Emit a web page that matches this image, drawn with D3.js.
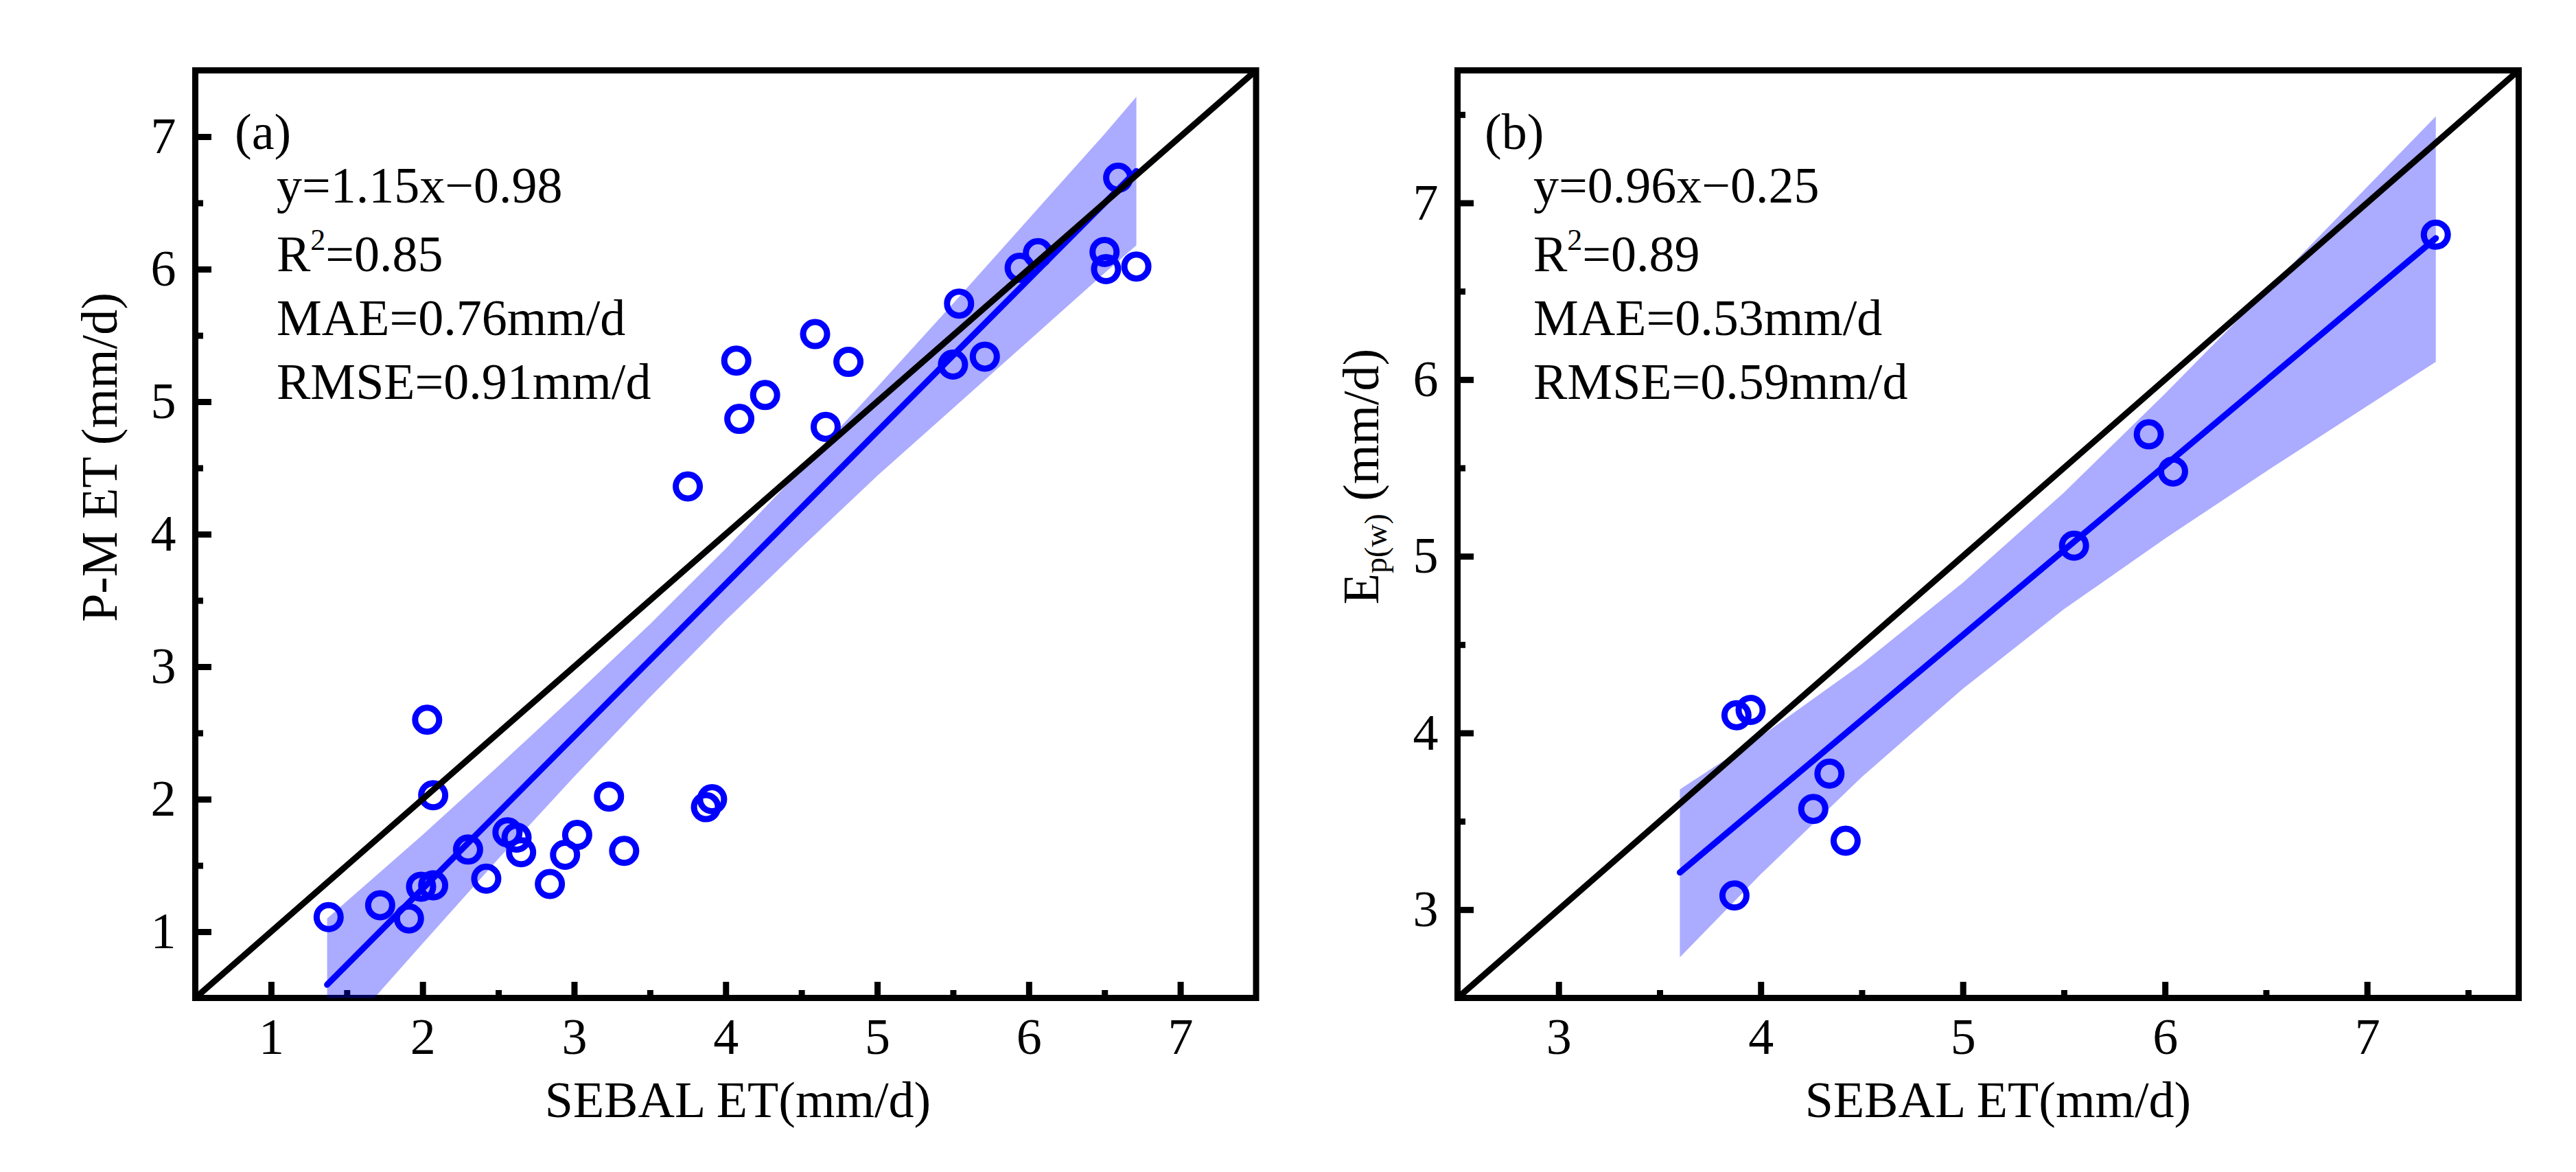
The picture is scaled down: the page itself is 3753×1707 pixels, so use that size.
<!DOCTYPE html>
<html>
<head>
<meta charset="utf-8">
<style>
  body { margin: 0; background: #fff; }
  text { font-family: "Liberation Serif", "Times New Roman", serif; fill: #000; }
</style>
</head>
<body>
<script src="https://d3js.org/d3.v7.min.js"></script>
<script>

//Panel (a): SEBAL ET vs P-M ET, 35 points
var sebalA = [1.38,1.72,1.91,1.99,2.07,2.03,2.07,2.30,2.42,2.56,2.62,2.65,2.84,2.94,3.02,3.23,3.33,3.75,3.87,3.91,4.07,4.09,4.26,4.59,4.66,4.81,5.50,5.54,5.71,5.94,6.06,6.50,6.51,6.59,6.71];
var pmA    = [1.11,1.20,1.10,1.34,1.35,2.60,2.03,1.62,1.40,1.75,1.71,1.60,1.36,1.58,1.73,2.02,1.61,4.36,1.94,2.00,5.31,4.87,5.05,5.51,4.81,5.30,5.28,5.74,5.34,6.01,6.12,6.13,6.00,6.69,6.02];

//fitted line end points and the shaded band
var fitXA = [1.37, 6.71];
var fitYA = [0.60, 6.74];
var bandXA  = [1.37,2.0,2.5,3.0,3.5,4.0,4.5,5.0,5.5,6.0,6.5,6.71];
var upperA  = [1.10,1.73,2.25,2.78,3.32,3.89,4.49,5.11,5.74,6.38,7.02,7.30];
var lowerA  = [0.10,0.91,1.55,2.17,2.77,3.35,3.90,4.44,4.95,5.46,5.97,6.18];
var statsA = ["y=1.15x\u22120.98", "0.85", "MAE=0.76mm/d", "RMSE=0.91mm/d"];

//Panel (b): SEBAL ET vs Ep(w), 10 points
var sebalB = [3.88,3.95,3.87,4.26,4.34,4.42,5.55,5.92,6.04,7.34];
var epB    = [4.10,4.13,3.08,3.57,3.77,3.39,5.06,5.69,5.48,6.82];

var fitXB = [3.60, 7.34];
var fitYB = [3.21, 6.80];
var bandXB = [3.6,4.0,4.5,5.0,5.5,6.0,6.5,7.0,7.34];
var upperB = [3.68,3.98,4.39,4.85,5.36,5.92,6.50,7.09,7.49];
var lowerB = [2.73,3.20,3.75,4.25,4.70,5.10,5.48,5.85,6.10];
var statsB = ["y=0.96x\u22120.25", "0.89", "MAE=0.53mm/d", "RMSE=0.59mm/d"];

//tick values
var majorA = [1,2,3,4,5,6,7];
var minorA = [1.5,2.5,3.5,4.5,5.5,6.5];
var majorB = [3,4,5,6,7];
var minorB = [3.5,4.5,5.5,6.5,7.5];

var svg = d3.select("body").append("svg").attr("width", 3753).attr("height", 1707);

var FS = 74;

function drawPanel(p){
	var x = d3.scaleLinear().domain(p.xDomain).range([p.left, p.right]);
	var y = d3.scaleLinear().domain(p.yDomain).range([p.bottom, p.top]);
	var g = svg.append("g");

	//clip to the plot box
	var clipId = "clip" + p.id;
	g.append("clipPath").attr("id", clipId).append("rect")
		.attr("x", p.left).attr("y", p.top).attr("width", p.right - p.left).attr("height", p.bottom - p.top);

	//frame
	g.append("rect").attr("x", p.left).attr("y", p.top).attr("width", p.right - p.left).attr("height", p.bottom - p.top)
		.attr("fill", "none").attr("stroke", "#000").attr("stroke-width", 9);

	//ticks (inward) with labels
	var bottomMajor = d3.axisBottom(x).tickValues(p.major).tickSizeInner(-23.5).tickSizeOuter(0).tickPadding(29).tickFormat(d3.format("d"));
	var bottomMinor = d3.axisBottom(x).tickValues(p.minor).tickSizeInner(-11.5).tickSizeOuter(0).tickFormat("");
	var leftMajor = d3.axisLeft(y).tickValues(p.yMajor).tickSizeInner(-23.5).tickSizeOuter(0).tickPadding(28).tickFormat(d3.format("d"));
	var leftMinor = d3.axisLeft(y).tickValues(p.yMinor).tickSizeInner(-11.5).tickSizeOuter(0).tickFormat("");

	[[bottomMajor, "translate(0," + p.bottom + ")"], [bottomMinor, "translate(0," + p.bottom + ")"],
	 [leftMajor, "translate(" + p.left + ",0)"], [leftMinor, "translate(" + p.left + ",0)"]].forEach(function(a){
		var ax = g.append("g").attr("transform", a[1]).call(a[0]);
		ax.select(".domain").remove();
		ax.selectAll("line").attr("stroke", "#000").attr("stroke-width", 9);
		ax.selectAll("text").attr("font-size", FS).attr("font-family", "Liberation Serif").attr("fill", "#000");
	});

	var plot = g.append("g").attr("clip-path", "url(#" + clipId + ")");

	//confidence band
	var bandData = p.bandX.map(function(d, i){ return {x: d, lo: p.lower[i], hi: p.upper[i]}; });
	plot.append("path").datum(bandData)
		.attr("d", d3.area().x(function(d){ return x(d.x); }).y0(function(d){ return y(d.lo); }).y1(function(d){ return y(d.hi); }))
		.attr("fill", "#0000ff").attr("fill-opacity", 0.33);

	//points
	plot.selectAll("circle.pt").data(p.xs).enter().append("circle")
		.attr("class", "pt")
		.attr("cx", function(d){ return x(d); })
		.attr("cy", function(d, i){ return y(p.ys[i]); })
		.attr("r", 17.5)
		.attr("fill", "none").attr("stroke", "#0000ff").attr("stroke-width", 9);

	//fitted line
	var fitData = p.fitX.map(function(d, i){ return [d, p.fitY[i]]; });
	plot.append("path").datum(fitData)
		.attr("d", d3.line().x(function(d){ return x(d[0]); }).y(function(d){ return y(d[1]); }))
		.attr("fill", "none").attr("stroke", "#0000ff").attr("stroke-width", 9).attr("stroke-linecap", "round");

	//1:1 line
	var lo = Math.max(p.xDomain[0], p.yDomain[0]), hi = Math.min(p.xDomain[1], p.yDomain[1]);
	plot.append("path").datum([[lo, lo], [hi, hi]])
		.attr("d", d3.line().x(function(d){ return x(d[0]); }).y(function(d){ return y(d[1]); }))
		.attr("fill", "none").attr("stroke", "#000").attr("stroke-width", 9);

	//panel letter
	g.append("text").attr("x", p.letterX).attr("y", 217).attr("font-size", FS).text(p.letter);

	//stats text
	g.append("text").attr("x", p.statX).attr("y", 295).attr("font-size", FS).text(p.stats[0]);
	var r2 = g.append("text").attr("x", p.statX).attr("y", 395).attr("font-size", FS);
	r2.append("tspan").text("R");
	r2.append("tspan").attr("font-size", 44).attr("dy", -31).text("2");
	r2.append("tspan").attr("dy", 31).text("=" + p.stats[1]);
	g.append("text").attr("x", p.statX).attr("y", 488).attr("font-size", FS).text(p.stats[2]);
	g.append("text").attr("x", p.statX).attr("y", 581).attr("font-size", FS).text(p.stats[3]);

	//x title
	g.append("text").attr("x", p.xTitleX).attr("y", 1627).attr("text-anchor", "middle").attr("font-size", FS).text("SEBAL ET(mm/d)");

	//y title
	var yt = g.append("text").attr("transform", "translate(" + p.yTitleX + "," + p.yTitleY + ") rotate(-90)")
		.attr("text-anchor", "middle").attr("font-size", FS);
	p.yTitle(yt);
}

drawPanel({
	id: "a", letter: "(a)",
	left: 284.5, right: 1830, top: 102.5, bottom: 1453.5,
	xDomain: [0.5, 7.5], yDomain: [0.5, 7.5],
	major: majorA, minor: minorA, yMajor: majorA, yMinor: minorA,
	xs: sebalA, ys: pmA,
	fitX: fitXA, fitY: fitYA,
	bandX: bandXA, upper: upperA, lower: lowerA,
	stats: statsA, statX: 403, letterX: 342,
	xTitleX: 1075, yTitleX: 170, yTitleY: 666,
	yTitle: function(t){ t.text("P-M ET (mm/d)"); }
});

drawPanel({
	id: "b", letter: "(b)",
	left: 2123.5, right: 3669.5, top: 102.5, bottom: 1453.5,
	xDomain: [2.5, 7.75], yDomain: [2.5, 7.75],
	major: majorB, minor: minorB, yMajor: majorB, yMinor: minorB,
	xs: sebalB, ys: epB,
	fitX: fitXB, fitY: fitYB,
	bandX: bandXB, upper: upperB, lower: lowerB,
	stats: statsB, statX: 2234, letterX: 2163,
	xTitleX: 2911, yTitleX: 2008, yTitleY: 694,
	yTitle: function(t){
		t.append("tspan").text("E");
		t.append("tspan").attr("font-size", 46).attr("dy", 12).text("p(w)");
		t.append("tspan").attr("dy", -12).text(" (mm/d)");
	}
});

</script>
</body>
</html>
